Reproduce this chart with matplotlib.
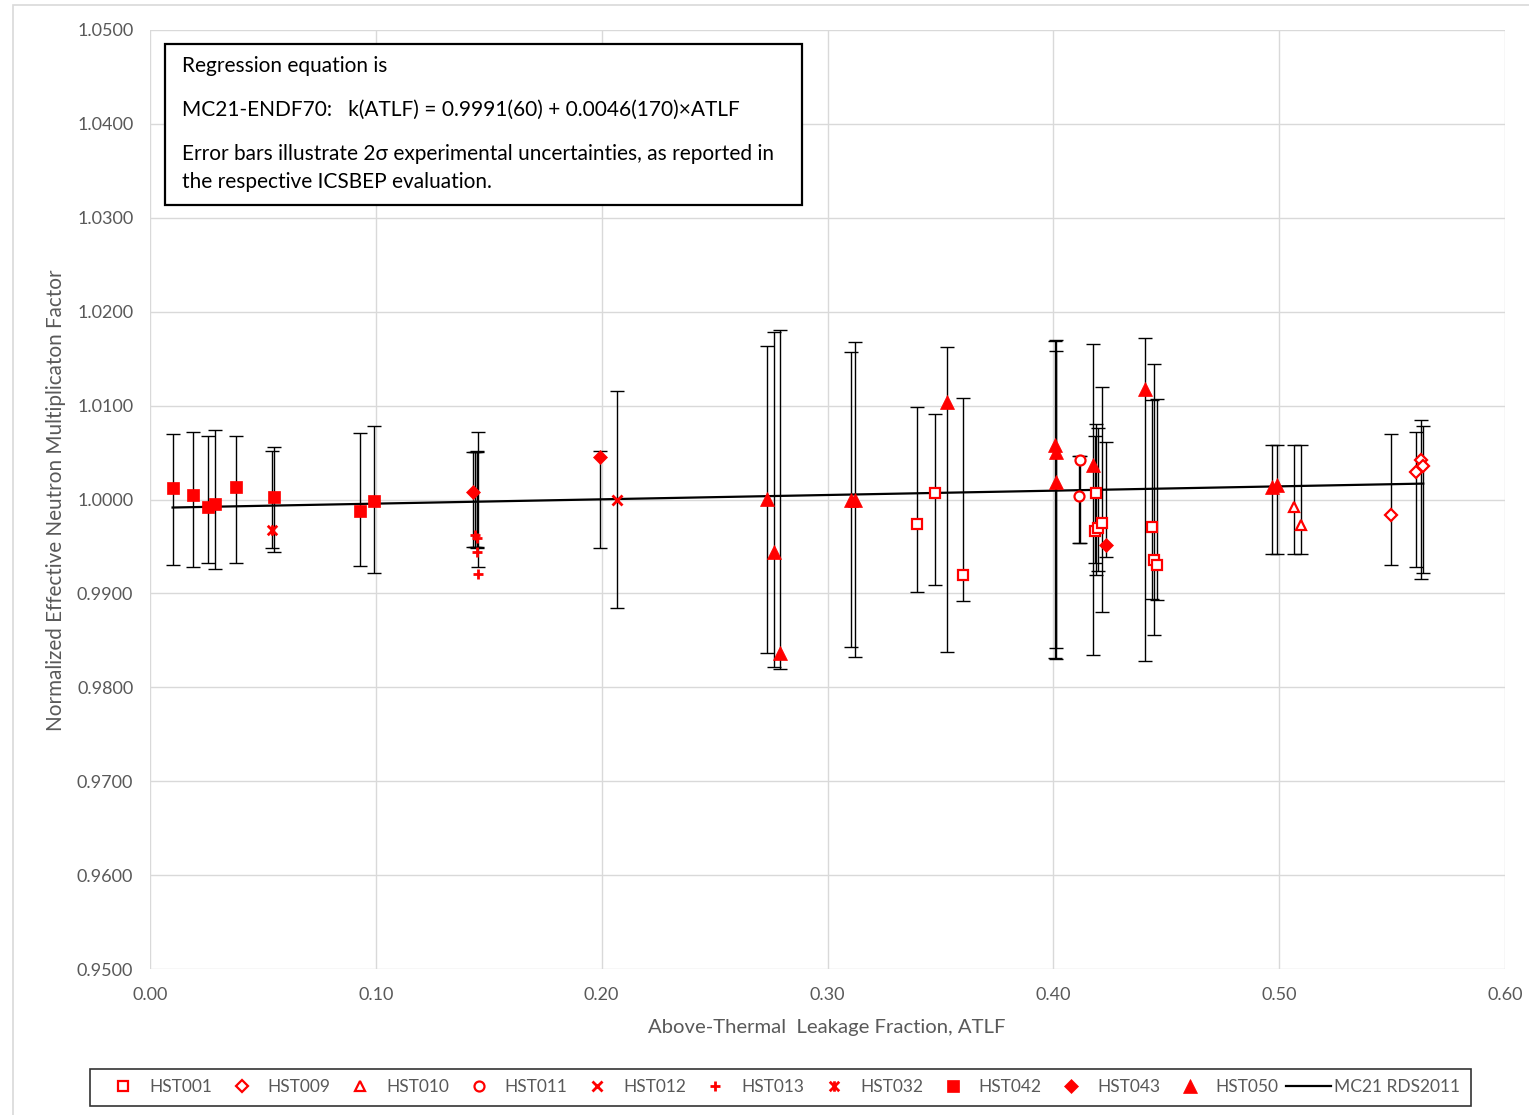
import matplotlib
matplotlib.use("Agg")
import matplotlib.pyplot as plt
from matplotlib.path import Path
from matplotlib.patches import Rectangle
from matplotlib.lines import Line2D
import numpy as np

plt.rcParams['font.family'] = ['Lato', 'DejaVu Sans']

# ---- benchmark data: ATLF, normalized k-eff, 2-sigma experimental uncertainty ----
hst001_x = [0.3395, 0.3476, 0.3598, 0.4185, 0.4188, 0.4199, 0.4217, 0.4437, 0.4445, 0.4458]
hst001_k = [0.9974, 1.0007, 0.9920, 0.9966, 1.0007, 0.9970, 0.9975, 0.9971, 0.9936, 0.9930]
hst001_u = [0.0098, 0.0091, 0.0108, 0.0068, 0.0080, 0.0076, 0.0120, 0.0106, 0.0144, 0.0107]

hst009_x = [0.5494, 0.5605, 0.5628, 0.5638]
hst009_k = [0.9984, 1.0029, 1.0042, 1.0036]
hst009_u = [0.0070, 0.0072, 0.0085, 0.0078]

hst010_x = [0.5066, 0.5097]
hst010_k = [0.9992, 0.9973]
hst010_u = [0.0058, 0.0058]

hst011_x = [0.4115, 0.4118]
hst011_k = [1.0004, 1.0042]
hst011_u = [0.0046, 0.0046]

hst012_x = [0.2069]
hst012_k = [1.0000]
hst012_u = [0.0116]

hst013_x = [0.1439, 0.1447, 0.1447, 0.1452]
hst013_k = [0.9962, 0.9959, 0.9944, 0.9921]
hst013_u = [0.0051, 0.0051, 0.0052, 0.0072]

hst032_x = [0.0539]
hst032_k = [0.9968]
hst032_u = [0.0052]

hst042_x = [0.0100, 0.0192, 0.0255, 0.0289, 0.0382, 0.0551, 0.0929, 0.0992]
hst042_k = [1.0012, 1.0005, 0.9992, 0.9995, 1.0013, 1.0003, 0.9988, 0.9998]
hst042_u = [0.0070, 0.0072, 0.0068, 0.0074, 0.0068, 0.0056, 0.0071, 0.0078]

hst043_x = [0.1432, 0.1993, 0.4233]
hst043_k = [1.0008, 1.0045, 0.9952]
hst043_u = [0.0051, 0.0052, 0.0061]

hst050_x = [0.2734, 0.2762, 0.2791, 0.3104, 0.3121, 0.3528, 0.4006, 0.4010, 0.4012,
            0.4177, 0.4407, 0.4967, 0.4989]
hst050_k = [1.0001, 0.9944, 0.9836, 0.9999, 1.0000, 1.0104, 1.0058, 1.0051, 1.0019,
            1.0037, 1.0118, 1.0013, 1.0015]
hst050_u = [0.0164, 0.0178, 0.0180, 0.0157, 0.0168, 0.0162, 0.0169, 0.0170, 0.0158,
            0.0166, 0.0172, 0.0058, 0.0058]

# regression fit k(ATLF) = a + b * ATLF
fit_a = 0.9991
fit_b = 0.0046

y_ticks = [0.9500, 0.9600, 0.9700, 0.9800, 0.9900, 1.0000, 1.0100, 1.0200, 1.0300, 1.0400, 1.0500]
x_ticks = [0.00, 0.10, 0.20, 0.30, 0.40, 0.50, 0.60]

# ---- figure layout ----
W, H = 1529, 1115
RED = '#FF0000'
GREY_TXT = '#595959'
GRID = '#D9D9D9'


def fx(px):
    return px / W


def fy(py):
    return 1 - py / H


fig = plt.figure(figsize=(W / 100, H / 100), dpi=100)
fig.patch.set_facecolor('white')

# light chart-area border
fig.add_artist(Rectangle((fx(13), fy(1125)), fx(1540) - fx(13), fy(5) - fy(1125),
                         transform=fig.transFigure, fill=False, edgecolor=GRID,
                         linewidth=1.2))

ax = fig.add_axes([fx(150), fy(969), fx(1505) - fx(150), fy(30) - fy(969)])

# Excel-style star marker: an x with a vertical stroke
star_path = Path([(-1, -1), (1, 1), (-1, 1), (1, -1), (0, -1.1), (0, 1.1)],
                 [Path.MOVETO, Path.LINETO, Path.MOVETO, Path.LINETO,
                  Path.MOVETO, Path.LINETO])

series = [
    ('HST001', hst001_x, hst001_k, hst001_u, 's', False, 7.2, 1.6),
    ('HST009', hst009_x, hst009_k, hst009_u, 'D', False, 5.8, 1.6),
    ('HST010', hst010_x, hst010_k, hst010_u, '^', False, 7.5, 1.6),
    ('HST011', hst011_x, hst011_k, hst011_u, 'o', False, 7.2, 1.6),
    ('HST012', hst012_x, hst012_k, hst012_u, 'x', False, 7.5, 2.0),
    ('HST013', hst013_x, hst013_k, hst013_u, '+', False, 7.5, 2.0),
    ('HST032', hst032_x, hst032_k, hst032_u, star_path, False, 7.5, 2.0),
    ('HST042', hst042_x, hst042_k, hst042_u, 's', True, 9.0, 0.5),
    ('HST043', hst043_x, hst043_k, hst043_u, 'D', True, 7.0, 0.5),
    ('HST050', hst050_x, hst050_k, hst050_u, '^', True, 9.5, 0.5),
]

# error bars are centred on the experimental value (normalized to 1)
for name, xs, ks, us, mk, filled, ms, mew in series:
    ax.errorbar(xs, np.ones(len(xs)), yerr=us, fmt='none', ecolor='black',
                elinewidth=1.0, capsize=5, capthick=1.0, zorder=3)

# regression line across the range of the data
all_x = np.concatenate([np.asarray(s[1]) for s in series])
fit_x = np.array([all_x.min(), all_x.max()])
ax.plot(fit_x, fit_a + fit_b * fit_x, color='black', linewidth=1.6, zorder=4)

handles = []
for name, xs, ks, us, mk, filled, ms, mew in series:
    face = RED if filled else 'white'
    ax.plot(xs, ks, linestyle='none', marker=mk, markersize=ms,
            markerfacecolor=face, markeredgecolor=RED, markeredgewidth=mew, zorder=5)
    handles.append(Line2D([], [], linestyle='none', marker=mk, markersize=ms,
                          markerfacecolor=RED if filled else 'none',
                          markeredgecolor=RED, markeredgewidth=mew, label=name))
handles.append(Line2D([], [], color='black', linewidth=1.6, label='MC21 RDS2011'))

# axes styling
ax.set_xlim(0.0, 0.6)
ax.set_ylim(0.95, 1.05)
ax.set_xticks(x_ticks)
ax.set_yticks(y_ticks)
ax.set_xticklabels([f'{v:.2f}' for v in x_ticks])
ax.set_yticklabels([f'{v:.4f}' for v in y_ticks])
ax.grid(True, color=GRID, linewidth=1.0, zorder=0)
ax.set_axisbelow(True)
for sp in ax.spines.values():
    sp.set_visible(False)
ax.tick_params(axis='both', length=0, labelsize=13, labelcolor=GREY_TXT)
ax.tick_params(axis='y', pad=12)
ax.tick_params(axis='x', pad=13)

fig.text(fx(56), fy(500), 'Normalized Effective Neutron Multiplicaton Factor',
         rotation=90, ha='center', va='center', fontsize=14.9, color=GREY_TXT)
fig.text(fx(827), fy(1028), 'Above-Thermal  Leakage Fraction, ATLF',
         ha='center', va='center', fontsize=14.6, color=GREY_TXT)

# annotation box with the regression equation
fig.add_artist(Rectangle((fx(165), fy(205)), fx(802) - fx(165), fy(44) - fy(205),
                         transform=fig.transFigure, facecolor='white',
                         edgecolor='black', linewidth=1.6, zorder=10))
box_lines = [
    (66, 'Regression equation is'),
    (110, 'MC21-ENDF70:   k(ATLF) = 0.9991(60) + 0.0046(170)\u00d7ATLF'),
    (154, 'Error bars illustrate 2\u03c3 experimental uncertainties, as reported in'),
    (182, 'the respective ICSBEP evaluation.'),
]
for py, txt in box_lines:
    fig.text(fx(182), fy(py), txt, ha='left', va='center', fontsize=15,
             color='black', zorder=11)

leg = fig.legend(handles=handles, loc='center', bbox_to_anchor=(fx(780.5), fy(1087.5)),
                 ncol=11, fontsize=12.5, labelcolor=GREY_TXT, frameon=True,
                 fancybox=False, edgecolor='black', handlelength=2.6,
                 handletextpad=0.2, columnspacing=0.4, borderpad=0.6)
leg.get_frame().set_linewidth(1.2)

fig.savefig('out.png', dpi=100)
